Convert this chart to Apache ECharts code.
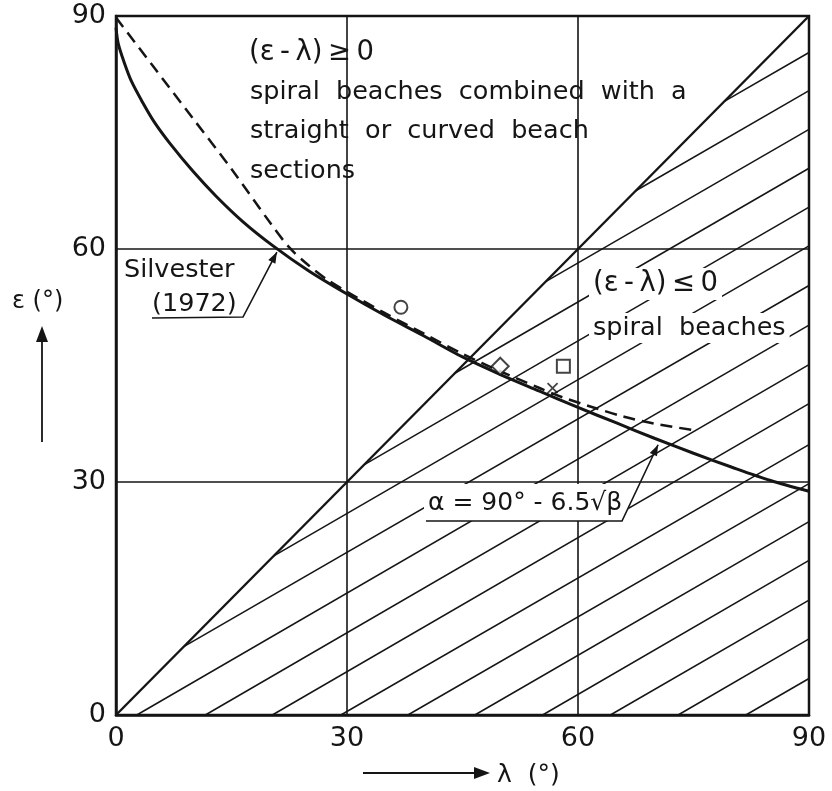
<!DOCTYPE html>
<html>
<head>
<meta charset="utf-8">
<script src="https://cdn.jsdelivr.net/npm/echarts@6/dist/echarts.min.js"></script>
<style>
  html, body { margin: 0; padding: 0; background: #fff; }
  #chart { width: 832px; height: 791px; }
</style>
</head>
<body>
<div id="chart"></div>
<script>
// Axis ticks (degrees)
const tickValues = [0, 30, 60, 90];

// Empirical curve α = 90° - 6.5√β (solid), λ vs ε
const solidLambda = [0, 0.3, 1, 2, 3.5, 5, 7, 10, 13, 16.5, 20.4, 25, 30, 35, 40, 45, 50, 55, 60, 65, 70, 75, 80, 85, 90];
const solidEps    = [88.5, 86.4, 84.2, 81.6, 78.8, 76.3, 73.6, 70.0, 66.8, 63.5, 60.4, 57.2, 54.2, 51.4, 48.8, 46.1, 43.8, 41.7, 39.6, 37.6, 35.6, 33.7, 31.9, 30.2, 28.8];

// Silvester (1972) curve (dashed)
const dashedLambda = [0, 5, 10, 15, 20, 22.5, 25, 27.5, 30, 35, 40, 45, 50, 55, 58, 62, 66, 70, 75.5];
const dashedEps    = [89.8, 83.3, 76.8, 70.3, 63.4, 60.2, 57.9, 56.0, 54.5, 51.7, 49.1, 46.5, 44.2, 42.1, 40.9, 39.6, 38.4, 37.5, 36.6];

// Boundary ε = λ
const boundaryLambda = [0, 90];
const boundaryEps    = [0, 90];

// Observed cases
const circlePoints  = [[37.0, 52.5]];
const diamondPoints = [[49.9, 44.9]];
const squarePoints  = [[58.1, 44.9]];
const crossPoints   = [[56.7, 42.1]];

// Hatching of the (ε-λ) ≤ 0 region: lines leaving the λ axis or the ε = λ boundary,
// each running to the right-hand edge (λ = 90)
const hatchFromAxisLambda   = [2.7, 11.6, 20.3, 29.2, 37.9, 46.6, 55.4, 64.2, 73.0, 81.8];
const hatchFromAxisEndEps   = [50.2, 45.1, 40.1, 34.8, 29.8, 24.9, 19.9, 14.8, 9.8, 4.7];
const hatchFromBoundary     = [8.8, 20.5, 32.2, 44.0, 55.8, 67.5, 79.0];
const hatchFromBoundaryEnd  = [55.3, 60.4, 65.4, 70.4, 75.4, 80.4, 85.3];

const INK = '#151515';
const FONT = '"DejaVu Sans", sans-serif';
const TS = '\u2009'; // thin space

const zip = (xs, ys) => xs.map((x, i) => [x, ys[i]]);

const hatchData = [];
hatchFromAxisLambda.forEach((l, i) => hatchData.push({ coords: [[l, 0], [90, hatchFromAxisEndEps[i]]] }));
hatchFromBoundary.forEach((d, i) => hatchData.push({ coords: [[d, d], [90, hatchFromBoundaryEnd[i]]] }));

const axisCommon = {
  type: 'value', min: 0, max: 90, interval: 30,
  axisLine: { show: true, lineStyle: { color: INK, width: 2.5 } },
  axisTick: { show: false },
  splitLine: { show: true, lineStyle: { color: INK, width: 1.6 } },
  axisLabel: { color: INK, fontSize: 27, fontFamily: FONT, margin: 10 }
};

const chart = echarts.init(document.getElementById('chart'), null, { renderer: 'canvas' });

chart.setOption({
  backgroundColor: '#fff',
  animation: false,
  grid: { left: 116, right: 23, top: 16, bottom: 76, show: true, borderColor: INK, borderWidth: 2.5 },
  xAxis: Object.assign({}, axisCommon),
  yAxis: Object.assign({}, axisCommon),
  series: [
    {
      type: 'lines', coordinateSystem: 'cartesian2d', silent: true, z: 1,
      lineStyle: { color: INK, width: 1.5, opacity: 1 },
      data: hatchData
    },
    {
      type: 'line', data: zip(boundaryLambda, boundaryEps), showSymbol: false, z: 2,
      lineStyle: { color: INK, width: 2.4 }
    },
    {
      type: 'line', data: zip(dashedLambda, dashedEps), showSymbol: false, smooth: 0.3, z: 3,
      lineStyle: { color: INK, width: 2.5, type: [12, 7] }
    },
    {
      type: 'line', data: zip(solidLambda, solidEps), showSymbol: false, smooth: 0.3, z: 4,
      lineStyle: { color: INK, width: 3 }
    },
    {
      type: 'scatter', data: circlePoints, symbol: 'circle', symbolSize: 13, z: 5,
      itemStyle: { color: '#fff', borderColor: INK, borderWidth: 2 }
    },
    {
      type: 'scatter', data: diamondPoints, symbol: 'diamond', symbolSize: [17, 17], z: 5,
      itemStyle: { color: '#fff', borderColor: INK, borderWidth: 2 }
    },
    {
      type: 'scatter', data: squarePoints, symbol: 'rect', symbolSize: 13, z: 5,
      itemStyle: { color: '#fff', borderColor: INK, borderWidth: 2 }
    },
    {
      type: 'scatter', data: crossPoints, symbol: 'path://M0,0L10,10M10,0L0,10', symbolSize: 10, z: 5,
      itemStyle: { color: 'none', borderColor: INK, borderWidth: 1.8 }
    }
  ]
});

// ---- annotations ----
const px = (l, e) => chart.convertToPixel({ gridIndex: 0 }, [l, e]);

function arrowHead(tip, from, len, half) {
  const dx = tip[0] - from[0], dy = tip[1] - from[1];
  const d = Math.hypot(dx, dy), ux = dx / d, uy = dy / d;
  const bx = tip[0] - ux * len, by = tip[1] - uy * len;
  return {
    type: 'polygon', z: 30,
    shape: { points: [tip, [bx - uy * half, by + ux * half], [bx + uy * half, by - ux * half]] },
    style: { fill: INK }
  };
}
function seg(pts, w) {
  return { type: 'polyline', z: 30, shape: { points: pts }, style: { stroke: INK, lineWidth: w || 1.6, fill: null } };
}
function label(text, x, y, size, extra) {
  return {
    type: 'text', z: 40, x: x, y: y,
    style: Object.assign({ text: text, font: size + 'px ' + FONT, fill: INK, textVerticalAlign: 'bottom' }, extra || {})
  };
}

const silTip = px(20.9, 59.6);
const silFrom = [243, 317];
const alphaTip = px(70.4, 34.8);
const alphaFrom = [622, 521];

const geLabel = '(ε' + TS + '-' + TS + 'λ)' + TS + '≥' + TS + '0';
const leLabel = '(ε' + TS + '-' + TS + 'λ)' + TS + '≤' + TS + '0';

chart.setOption({
  graphic: [
    label(geLabel, 249, 67, 27.5),
    label('spiral  beaches  combined  with  a', 250, 105, 25.5),
    label('straight  or  curved  beach', 250, 144, 25.5),
    label('sections', 250, 184, 25.5),

    label(leLabel, 589, 300, 27.5, { backgroundColor: '#fff', padding: [2, 4, 2, 4] }),
    label('spiral  beaches', 589, 343, 25.5, { backgroundColor: '#fff', padding: [2, 4, 2, 4] }),

    // Silvester (1972) note with leader
    label('Silvester', 124, 283, 25.5),
    label('(1972)', 152, 317, 25.5),
    seg([[152, 318], silFrom, silTip]),
    arrowHead(silTip, silFrom, 11, 4),

    // α = 90° - 6.5√β note, boxed off the hatching, with leader
    { type: 'polygon', z: 20, shape: { points: [[424, 484], [641, 484], [622, 521], [424, 521]] }, style: { fill: '#fff' } },
    label('α = 90° - 6.5√β', 428, 516, 25),
    seg([[426, 521], alphaFrom, alphaTip]),
    arrowHead(alphaTip, alphaFrom, 11, 4),

    // axis names with arrows
    label('ε (°)', 12, 314, 24),
    seg([[42, 442], [42, 336]], 1.8),
    arrowHead([42, 326], [42, 442], 16, 6),
    seg([[363, 773], [478, 773]], 1.8),
    arrowHead([490, 773], [363, 773], 16, 6),
    label('λ  (°)', 497, 788, 25)
  ]
});
</script>
</body>
</html>
